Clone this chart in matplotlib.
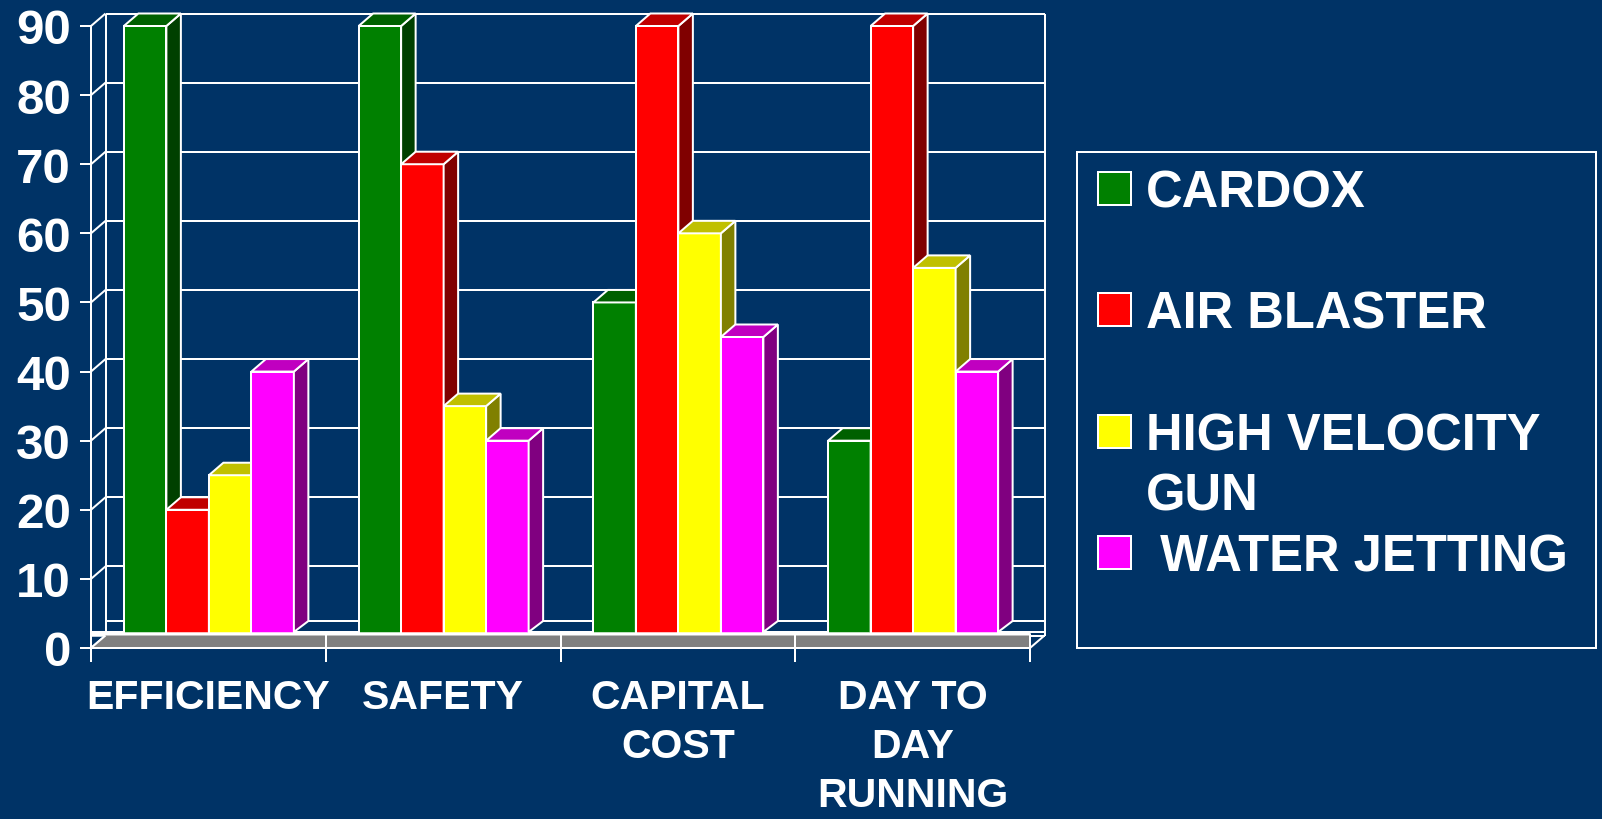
import matplotlib
matplotlib.use("Agg")
import matplotlib.pyplot as plt
from matplotlib.patches import Polygon, Rectangle

categories = ["EFFICIENCY", "SAFETY", "CAPITAL\nCOST", "DAY TO\nDAY\nRUNNING"]
series_names = ["CARDOX", "AIR BLASTER", "HIGH VELOCITY\nGUN", " WATER JETTING"]
cardox = [90, 90, 50, 30]
air_blaster = [20, 70, 90, 90]
high_velocity_gun = [25, 35, 60, 55]
water_jetting = [40, 30, 45, 40]
y_ticks = [0, 10, 20, 30, 40, 50, 60, 70, 80, 90]

front_colors = ["#008000", "#FF0000", "#FFFF00", "#FF00FF"]
side_colors = ["#004000", "#800000", "#808000", "#800080"]
top_colors = ["#006000", "#C00000", "#C0C000", "#C000C0"]
BG = "#003366"
FONT = "Liberation Sans"
W, H = 1602, 820
px = 72 / 100  # points per pixel

plt.rcParams["font.family"] = [FONT, "DejaVu Sans"]
plt.rcParams["font.weight"] = "bold"

fig = plt.figure(figsize=(W / 100, H / 100), dpi=100, facecolor=BG)
L, R, B, T = 91, 1030, 649, 27
ax = fig.add_axes([L / W, 1 - B / H, (R - L) / W, (B - T) / H])
ax.set_xlim(0, 4)
ax.set_ylim(0, 90)
ax.patch.set_alpha(0)

ux = 4 / (R - L)      # category units per pixel
uy = 90 / (B - T)     # value units per pixel
dx = 14.5 * ux        # depth offset
dy = 12.5 * uy
base = 16 * uy        # visible foot of the bars above the axis line
foot = 27 * uy        # back edge of the bar foot
lw = 2.0 * px
white = dict(color="white", lw=lw, clip_on=False, solid_capstyle="butt")

# back wall and left wall
for v in y_ticks:
    ax.plot([dx, 4 + dx], [v + dy, v + dy], zorder=1, **white)
    ax.plot([0, dx], [v, v + dy], zorder=1, **white)
ax.plot([dx, dx], [dy, 90 + dy], zorder=1, **white)
ax.plot([4 + dx, 4 + dx], [dy, 90 + dy], zorder=1, **white)
ax.plot([dx, 4 + dx], [foot, foot], zorder=1, **white)
ax.plot([0, 4 + dx], [base, base], zorder=1, **white)

# bars
bw = 42.5 * ux
shift = 0.5 * ux
series = [cardox, air_blaster, high_velocity_gun, water_jetting]
for j, vals in enumerate(series):
    z = 2 + j * 0.1
    xs = [i + 0.5 + shift + (j - 1.5) * bw for i in range(len(vals))]
    ax.bar(xs, vals, width=bw, color=front_colors[j], edgecolor="white",
           linewidth=lw, zorder=z, clip_on=False)
    for x, v in zip(xs, vals):
        l, r = x - bw / 2, x + bw / 2
        ax.add_patch(Polygon([(r, base), (r + dx, foot), (r + dx, v + dy), (r, v)],
                             fc=side_colors[j], ec="white", lw=lw, zorder=z, clip_on=False))
        ax.add_patch(Polygon([(l, v), (l + dx, v + dy), (r + dx, v + dy), (r, v)],
                             fc=top_colors[j], ec="white", lw=lw, zorder=z, clip_on=False))

# floor
ax.add_patch(Rectangle((0, dy), 4, base - dy, fc="white", ec="white", lw=0.5 * px, zorder=5, clip_on=False))
ax.add_patch(Polygon([(0, 0), (dx, dy), (4, dy), (4, 0)], fc="#808080", ec="none", zorder=5, clip_on=False))
ax.plot([0, dx], [0, dy], zorder=6, **white)
ax.plot([4, 4 + dx], [0, dy], zorder=6, **white)

# axes
for s in ("top", "right"):
    ax.spines[s].set_visible(False)
for s in ("left", "bottom"):
    ax.spines[s].set_color("white")
    ax.spines[s].set_linewidth(lw)
    ax.spines[s].set_zorder(7)
ax.set_yticks(y_ticks)
ax.set_xticks([0, 1, 2, 3, 4])
ax.set_xticklabels([])
ax.set_xticks([0.5, 1.5, 2.5, 3.5], minor=True)
ax.set_xticklabels(categories, minor=True, fontsize=29.5, fontweight="bold", color="white",
                   linespacing=1.37)
ax.tick_params(axis="x", which="major", direction="inout", length=28 * px, width=lw, color="white")
ax.tick_params(axis="x", which="minor", length=0, pad=30 * px)
ax.tick_params(axis="y", which="major", direction="out", length=11 * px, width=lw, color="white",
               labelcolor="white", labelsize=35.5, pad=9 * px)
for t in ax.get_yticklabels():
    t.set_fontweight("bold")
ax.xaxis.set_zorder(7)
ax.yaxis.set_zorder(7)

# legend box, in pixel units of the picture
lg = fig.add_axes([0, 0, 1, 1], zorder=10)
lg.set_xlim(0, W)
lg.set_ylim(H, 0)
lg.axis("off")
lg.add_patch(Rectangle((1077, 153), 519, 496, fc="none", ec="white", lw=lw))
handle_tops = [172.5, 294, 416, 537]
for name, c, top in zip(series_names, front_colors, handle_tops):
    lg.add_patch(Rectangle((1098, top), 33, 33, fc=c, ec="white", lw=lw))
    lg.text(1146, top - 3.5, name, color="white", fontsize=36.5, fontweight="bold",
            va="top", ha="left", linespacing=1.29)

fig.savefig("out.png", dpi=100, facecolor=BG)
